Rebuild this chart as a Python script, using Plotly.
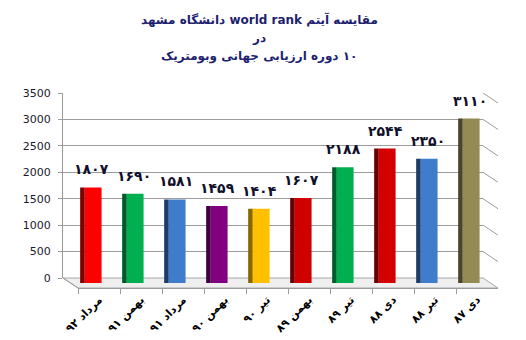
import plotly.graph_objects as go

# ---------------- data ----------------
categories = ["مرداد ۹۲", "بهمن ۹۱", "مرداد ۹۱", "بهمن ۹۰", "تیر ۹۰",
              "بهمن ۸۹", "تیر ۸۹", "دی ۸۸", "تیر ۸۸", "دی ۸۷"]
values = [1807, 1690, 1581, 1459, 1404, 1607, 2188, 2544, 2350, 3110]
front_colors = ["#FF0000", "#00B050", "#3F7CCC", "#800080", "#FFC000",
                "#D00000", "#00B050", "#D40000", "#3F7CCC", "#948A54"]
side_colors = ["#7A0000", "#005A2A", "#1F3C66", "#3F003F", "#8A6600",
               "#680000", "#005A2A", "#6A0000", "#1F3C66", "#4A4528"]
y_ticks = [0, 500, 1000, 1500, 2000, 2500, 3000, 3500]
title_lines = ["مقایسه آیتم world rank دانشگاه مشهد",
               "در",
               "۱۰ دوره ارزیابی جهانی وبومتریک"]

PERSIAN = str.maketrans("0123456789", "۰۱۲۳۴۵۶۷۸۹")
value_labels = [str(v).translate(PERSIAN) for v in values]

# ---------------- geometry helpers ----------------
W, H = 526, 340
def fx(p):
    return p / W
def fy(p):
    return 1 - p / H

BACK_L, BACK_R, BACK_T, BACK_B = 63, 483, 93, 278
DX, DY = 15, 10          # depth offset of the floor / side wall
FONT = "Tahoma, DejaVu Sans, sans-serif"
GRID = "#9C9C9C"
TITLE_X = 259
TITLE_Y = [19, 38, 57]

rle = lambda s: "\u202b" + s + "\u202c"

fig = go.Figure()

# back wall anchor trace (invisible)
fig.add_trace(go.Scatter(x=categories, y=values, mode="markers",
                         marker=dict(opacity=0), xaxis="x", yaxis="y",
                         hoverinfo="skip", showlegend=False))
# side faces of the bars
fig.add_trace(go.Bar(x=categories, y=values, xaxis="x2", yaxis="y2",
                     width=0.11, offset=-0.27,
                     marker=dict(color=side_colors, line=dict(width=0)),
                     showlegend=False, hoverinfo="skip"))
# front faces of the bars
fig.add_trace(go.Bar(x=categories, y=values, xaxis="x2", yaxis="y2",
                     width=0.40, offset=-0.16,
                     marker=dict(color=front_colors, line=dict(width=0)),
                     showlegend=False, hoverinfo="skip"))
# front-floor category axis anchor (invisible)
fig.add_trace(go.Scatter(x=categories, y=values, mode="markers",
                         marker=dict(opacity=0), xaxis="x3", yaxis="y2",
                         hoverinfo="skip", showlegend=False))

shapes = []
# floor
shapes.append(dict(
    type="path", xref="paper", yref="paper", layer="below",
    path=(f"M {fx(BACK_L)},{fy(BACK_B)} L {fx(BACK_R)},{fy(BACK_B)} "
          f"L {fx(BACK_R + DX)},{fy(BACK_B + DY)} L {fx(BACK_L + DX)},{fy(BACK_B + DY)} Z"),
    fillcolor="#EFEFEF", line=dict(color="#A8A8A8", width=1)))
# right side-wall diagonals of the gridlines
for v in y_ticks:
    shapes.append(dict(type="line", xref="paper", yref="y", layer="below",
                       x0=fx(BACK_R), x1=fx(BACK_R + DX),
                       ysizemode="pixel", yanchor=v, y0=0, y1=-DY,
                       line=dict(color=GRID, width=1)))
# left floor edge diagonal
shapes.append(dict(type="line", xref="paper", yref="paper", layer="below",
                   x0=fx(BACK_L), y0=fy(BACK_B), x1=fx(BACK_L + DX), y1=fy(BACK_B + DY),
                   line=dict(color=GRID, width=1)))

annotations = [dict(x=c, y=v, xref="x2", yref="y2", text="<b>" + t + "</b>",
                    showarrow=False, yanchor="bottom", yshift=8,
                    font=dict(family=FONT, size=14, color="#10102A"))
               for c, v, t in zip(categories, values, value_labels)]
for line, ty in zip(title_lines, TITLE_Y):
    annotations.append(dict(x=fx(TITLE_X), y=fy(ty), xref="paper", yref="paper",
                            text="<b>" + rle(line) + "</b>", showarrow=False,
                            xanchor="center", yanchor="middle",
                            font=dict(family=FONT, size=12, color="#1F1F70")))

fig.update_layout(
    template="none",
    width=W, height=H, autosize=False,
    margin=dict(l=0, r=0, t=0, b=0, pad=0),
    paper_bgcolor="white", plot_bgcolor="rgba(0,0,0,0)",
    barmode="overlay", showlegend=False,
    xaxis=dict(domain=[fx(BACK_L), fx(BACK_R)], anchor="y", automargin=False,
               type="category", categoryarray=categories,
               range=[-0.5, len(categories) - 0.5],
               showgrid=False, showticklabels=False, ticks="", showline=False,
               zeroline=False),
    yaxis=dict(domain=[fy(BACK_B), fy(BACK_T)], anchor="x", automargin=False,
               range=[0, 3500], tickvals=y_ticks,
               showgrid=True, gridcolor=GRID, gridwidth=1,
               showline=True, linecolor=GRID, linewidth=1,
               ticks="outside", ticklen=4, tickcolor=GRID,
               ticklabelstandoff=5,
               zeroline=False,
               tickfont=dict(family=FONT, size=11, color="#1A1A2A")),
    xaxis2=dict(domain=[fx(BACK_L + DX / 2), fx(BACK_R + DX / 2)], anchor="y2",
                automargin=False,
                type="category", categoryarray=categories,
                range=[-0.5, len(categories) - 0.5],
                showgrid=False, showticklabels=False, ticks="", showline=False,
                zeroline=False),
    yaxis2=dict(domain=[fy(BACK_B + DY / 2), fy(BACK_T + DY / 2)], anchor="x2",
                automargin=False,
                range=[0, 3500], showgrid=False, showticklabels=False,
                ticks="", showline=False, zeroline=False),
    xaxis3=dict(domain=[fx(BACK_L + DX), fx(BACK_R + DX)], anchor="free",
                position=fy(BACK_B + DY), automargin=False,
                type="category", categoryarray=categories,
                range=[-0.5, len(categories) - 0.5],
                showgrid=False, showline=True, linecolor=GRID, linewidth=1,
                ticks="outside", ticklen=5, tickcolor=GRID,
                tickson="boundaries", tickangle=-45,
                tickfont=dict(family=FONT, size=11, color="#000000", weight="bold"),
                zeroline=False),
    shapes=shapes,
    annotations=annotations,
)

fig.write_html("out.html")
